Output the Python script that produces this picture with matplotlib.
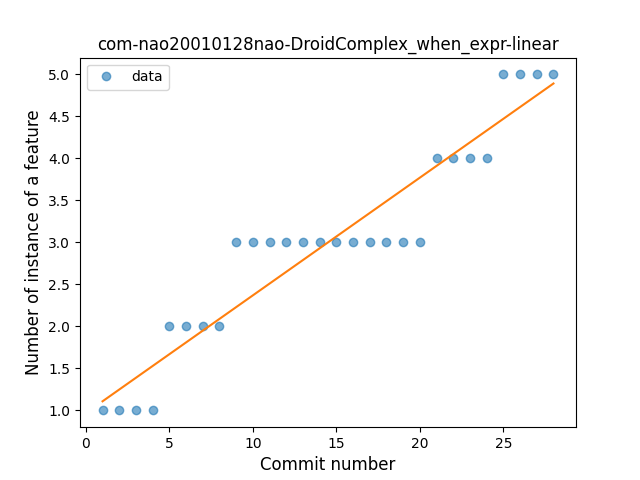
import numpy as np
import matplotlib
matplotlib.use("Agg")
import matplotlib.pyplot as plt

commits = list(range(1, 29))
counts = [1, 1, 1, 1, 2, 2, 2, 2,
          3, 3, 3, 3, 3, 3, 3, 3, 3, 3, 3, 3,
          4, 4, 4, 4, 5, 5, 5, 5]

x = np.array(commits)
y = np.array(counts)
slope, intercept = np.polyfit(x, y, 1)

fig, ax = plt.subplots(figsize=(6.4, 4.8), dpi=100)
ax.plot(x, y, "o", alpha=0.6, label="data")
ax.plot(x, slope * x + intercept)
ax.set_title("com-nao20010128nao-DroidComplex_when_expr-linear")
ax.set_xlabel("Commit number", fontsize=12)
ax.set_ylabel("Number of instance of a feature", fontsize=12)
ax.legend(loc="upper left")
fig.savefig("out.png")
